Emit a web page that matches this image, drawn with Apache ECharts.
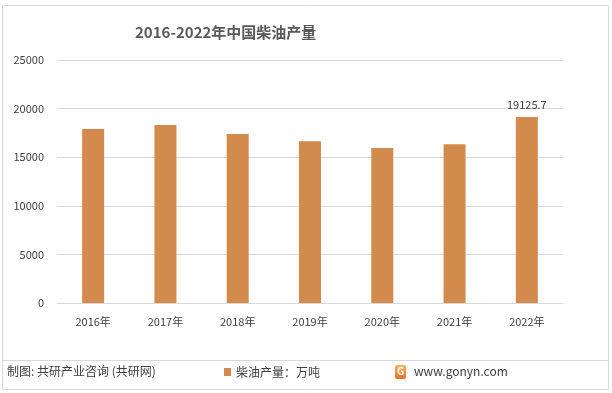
<!DOCTYPE html>
<html><head><meta charset="utf-8">
<script src="https://cdn.jsdelivr.net/npm/echarts@6/dist/echarts.min.js"></script>
<style>html,body{margin:0;padding:0;background:#fff}#c{width:612px;height:393px}</style>
</head><body><div id="c"></div>
<script>
const categories = ['2016年','2017年','2018年','2019年','2020年','2021年','2022年'];
const values = [17900, 18300, 17380, 16640, 15950, 16340, 19125.7];
const yTicks = [0, 5000, 10000, 15000, 20000, 25000];
const seriesName = '柴油产量：万吨';
const titleText = '2016-2022年中国柴油产量';
const sourceText = '制图: 共研产业咨询 (共研网)';
const siteText = 'www.gonyn.com';

const chart = echarts.init(document.getElementById('c'));
const font = '"Noto Sans CJK SC", "Noto Sans", sans-serif';
chart.setOption({
  animation: false,
  textStyle: {fontFamily: font},
  title: {text: titleText, left: 130, top: 20,
    textStyle: {fontSize: 15, fontWeight: 'bold', color: '#595959', fontFamily: font}},
  grid: {left: 57, right: 49, top: 60, bottom: 90},
  legend: {data: [seriesName], left: 219, top: 361, itemWidth: 7, itemHeight: 8,
    icon: 'rect', textStyle: {fontSize: 12, color: '#404040'}, itemGap: 4},
  xAxis: {type: 'category', data: categories,
    axisLine: {lineStyle: {color: '#d9d9d9'}}, axisTick: {show: false},
    axisLabel: {fontSize: 11, color: '#404040', margin: 13}},
  yAxis: {type: 'value', min: 0, max: yTicks[yTicks.length-1], interval: 5000,
    axisLine: {show: false}, axisTick: {show: false},
    splitLine: {lineStyle: {color: '#d9d9d9'}},
    axisLabel: {fontSize: 11, color: '#404040', margin: 13, formatter: v => String(v)}},
  series: [{name: seriesName, type: 'bar', barWidth: 22, data: values.map((v,i)=>({
      value: v,
      label: i === values.length-1 ? {show: true, position: 'top', fontSize: 11, color: '#404040', distance: 7} : {show: false}
    })),
    itemStyle: {color: '#D38B4D'}}],
  graphic: [
    {type: 'rect', shape: {x: 2.5, y: 5.5, width: 606, height: 384}, style: {fill: 'none', stroke: '#d9d9d9', lineWidth: 1}},
    {type: 'line', shape: {x1: 2, y1: 360.5, x2: 609, y2: 360.5}, style: {stroke: '#d9d9d9', lineWidth: 1}},
    {type: 'text', left: 7, top: 365, style: {text: sourceText, fontSize: 12, fill: '#404040', fontFamily: font}},
    {type: 'rect', shape: {x: 395, y: 365, width: 11, height: 14, r: 2},
      style: {fill: new echarts.graphic.LinearGradient(0,0,0,1,[{offset:0,color:'#f7b267'},{offset:1,color:'#e8702a'}])}},
    {type: 'text', left: 397, top: 366, style: {text: 'G', fontSize: 10, fontWeight: 'bold', fill: '#fff', fontFamily: font}},
    {type: 'text', left: 414, top: 365, style: {text: siteText, fontSize: 12, fill: '#404040', fontFamily: font}}
  ]
});
</script></body></html>
